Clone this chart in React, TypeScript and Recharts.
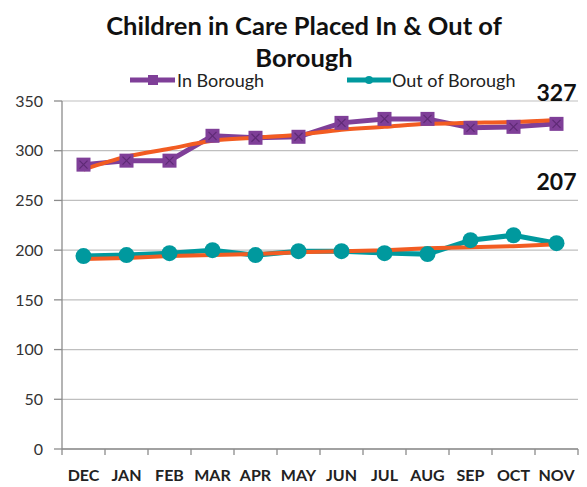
import React from "react";
import {
  CartesianGrid,
  LabelList,
  Line,
  LineChart,
  XAxis,
  YAxis,
} from "recharts";

const months = ["DEC", "JAN", "FEB", "MAR", "APR", "MAY", "JUN", "JUL", "AUG", "SEP", "OCT", "NOV"];
const inBorough = [286, 290, 290, 315, 313, 314, 328, 332, 332, 323, 324, 327];
const outBorough = [194, 195, 197, 200, 195, 199, 199, 197, 196, 210, 215, 207];
const inTrend = [281, 294, 302, 310, 313, 316, 321, 324, 327, 328, 329, 331];
const outTrend = [191, 192, 194, 195, 196, 198, 199, 200, 202, 203, 204, 206];
const yTicks = [0, 50, 100, 150, 200, 250, 300, 350];
const monthTicks = months.map((_, i) => i);

const data = months.map((m, i) => ({
  idx: i,
  month: m,
  inB: inBorough[i],
  outB: outBorough[i],
  inT: inTrend[i],
  outT: outTrend[i],
}));

const PURPLE = "#7F3F98";
const TEAL = "#00999E";
const ORANGE = "#F25C22";
const AXIS = "#8C8C8C";
const FONT = "Lato, 'Open Sans', sans-serif";

const W = 587;
const H = 487;
const MARGIN = { top: 101, right: 9, bottom: 6, left: 0 };
const Y_W = 62;
const X_H = 32;
const LABEL_GAP = 21;
// half a category band, for the between-month tick marks
const HALF_STEP = (W - MARGIN.left - MARGIN.right - Y_W) / months.length / 2;

const SquareDot = (props: any) => {
  const { cx, cy } = props;
  if (cx == null || cy == null) return null;
  const s = 7;
  return (
    <g>
      <rect x={cx - s} y={cy - s} width={s * 2} height={s * 2} fill={PURPLE} />
      <path
        d={`M${cx - 4},${cy - 4}L${cx + 4},${cy + 4}M${cx + 4},${cy - 4}L${cx - 4},${cy + 4}`}
        stroke="#5E2A75"
        strokeWidth={1.2}
      />
    </g>
  );
};

const CircleDot = (props: any) => {
  const { cx, cy } = props;
  if (cx == null || cy == null) return null;
  return <circle cx={cx} cy={cy} r={8} fill={TEAL} />;
};

const MonthTick = (props: any) => {
  const { x, y, payload, index } = props;
  const axisY = y - LABEL_GAP;
  const last = index === months.length - 1;
  return (
    <g>
      <line x1={x - HALF_STEP} x2={x - HALF_STEP} y1={axisY} y2={axisY + 6} stroke={AXIS} strokeWidth={1.3} />
      {last && (
        <line x1={x + HALF_STEP} x2={x + HALF_STEP} y1={axisY} y2={axisY + 6} stroke={AXIS} strokeWidth={1.3} />
      )}
      <text
        x={x}
        y={y}
        dy="0.71em"
        textAnchor="middle"
        fontFamily={FONT}
        fontWeight={700}
        fontSize={16}
        fill="#222"
      >
        {months[payload.value]}
      </text>
    </g>
  );
};

const lastLabel = (dy: number) => (props: any) => {
  const { x, y, value, index } = props;
  if (index !== months.length - 1) return null;
  return (
    <text
      x={x}
      y={y + dy}
      textAnchor="middle"
      dominantBaseline="central"
      fontFamily={FONT}
      fontWeight={700}
      fontSize={23}
      fill="#111"
    >
      {value}
    </text>
  );
};

export default function App() {
  return (
    <div
      style={{
        position: "absolute",
        left: 0,
        top: 0,
        width: W,
        height: H,
        background: "#fff",
        fontFamily: FONT,
      }}
    >
      <div
        style={{
          position: "absolute",
          left: 0,
          width: 608,
          top: 10,
          textAlign: "center",
          fontWeight: 700,
          fontSize: 25.5,
          lineHeight: "31.5px",
          color: "#111",
        }}
      >
        Children in Care Placed In &amp; Out of
        <br />
        Borough
      </div>

      <div style={{ position: "absolute", left: 130, top: 69, display: "flex", alignItems: "center" }}>
        <svg width={46} height={20}>
          <line x1={0} y1={10} x2={45} y2={10} stroke={PURPLE} strokeWidth={5} />
          <rect x={18} y={5} width={10} height={10} fill={PURPLE} />
        </svg>
        <span style={{ fontSize: 18, color: "#222", marginLeft: 1 }}>In Borough</span>
      </div>
      <div style={{ position: "absolute", left: 347, top: 69, display: "flex", alignItems: "center" }}>
        <svg width={44} height={20}>
          <line x1={0} y1={10} x2={44} y2={10} stroke={TEAL} strokeWidth={5} />
          <circle cx={22} cy={10} r={4} fill={TEAL} />
        </svg>
        <span style={{ fontSize: 18, color: "#222", marginLeft: 1 }}>Out of Borough</span>
      </div>

      <LineChart
        width={W}
        height={H}
        data={data}
        margin={MARGIN}
        style={{ position: "absolute", left: 0, top: 0 }}
      >
        <CartesianGrid vertical={false} stroke="#BFBFBF" strokeWidth={1.2} />
        <XAxis
          type="number"
          dataKey="idx"
          domain={[-0.5, 11.5]}
          ticks={monthTicks}
          interval={0}
          height={X_H}
          axisLine={{ stroke: AXIS, strokeWidth: 1.3 }}
          tickLine={false}
          tickSize={0}
          tickMargin={LABEL_GAP}
          tick={<MonthTick />}
        />
        <YAxis
          domain={[0, 350]}
          ticks={yTicks}
          width={Y_W}
          tickSize={8}
          tickMargin={11}
          axisLine={{ stroke: AXIS, strokeWidth: 1.3 }}
          tickLine={{ stroke: AXIS, strokeWidth: 1.3 }}
          tick={{ fontFamily: FONT, fontSize: 16, fill: "#333" }}
        />
        <Line
          type="linear"
          dataKey="inB"
          stroke={PURPLE}
          strokeWidth={5}
          dot={<SquareDot />}
          activeDot={false}
          isAnimationActive={false}
        >
          <LabelList dataKey="inB" content={lastLabel(-32)} />
        </Line>
        <Line
          type="linear"
          dataKey="outB"
          stroke={TEAL}
          strokeWidth={5}
          dot={<CircleDot />}
          activeDot={false}
          isAnimationActive={false}
        >
          <LabelList dataKey="outB" content={lastLabel(-62)} />
        </Line>
        <Line
          type="monotone"
          dataKey="inT"
          stroke={ORANGE}
          strokeWidth={4}
          dot={false}
          activeDot={false}
          isAnimationActive={false}
        />
        <Line
          type="linear"
          dataKey="outT"
          stroke={ORANGE}
          strokeWidth={4}
          dot={false}
          activeDot={false}
          isAnimationActive={false}
        />
      </LineChart>
    </div>
  );
}
